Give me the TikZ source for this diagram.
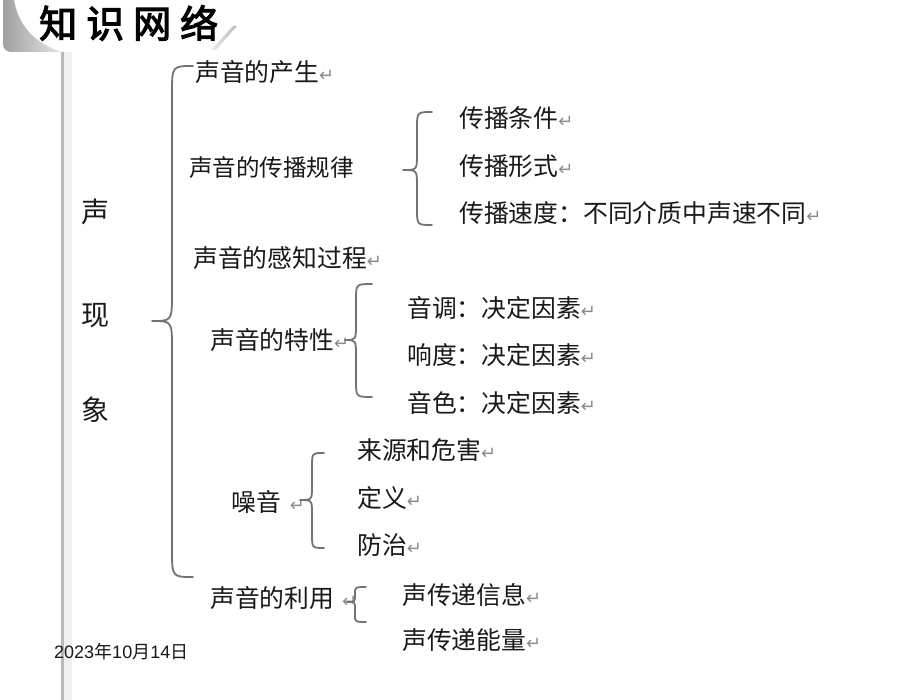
\documentclass[tikz,border=0pt]{standalone}
\usepackage{fontspec}
\setmainfont{Liberation Sans}
\newfontfamily\cjk{Noto Sans CJK SC}
\newfontfamily\cjkb[FakeBold=3]{Noto Sans CJK SC}
\newfontfamily\symf{DejaVu Sans}
\newcommand\rmark{{\symf\fontsize{18}{18}\selectfont\textcolor{black!45}{↵}}}
\newcommand\mybrace[7]{%
  \draw[bracestroke] (#1,#4) .. controls (#2,#4) .. (#2,#4+#7) -- (#2,#5-#7)
    .. controls (#2,#5) .. (#3,#5) .. controls (#2,#5) .. (#2,#5+#7)
    -- (#2,#6-#7) .. controls (#2,#6) .. (#1,#6);}
\tikzset{
  txt/.style={anchor=west, inner sep=0pt, text=black!90,
    font=\cjk\fontsize{24.8}{24.8}\selectfont},
  bigtxt/.style={inner sep=0pt, text=black!90, font=\cjk\fontsize{28}{28}\selectfont},
  bracestroke/.style={draw=black!55, line width=1.8pt, line cap=round, line join=round}
}
\begin{document}
\begin{tikzpicture}[x=1pt,y=-1pt]
\useasboundingbox (0,0) rectangle (920,700);
\fill[white] (0,0) rectangle (920,700);
% title decoration
\shade[left color=gray!75, right color=gray!20]
  (3,0) -- (3,42) .. controls (3,50) and (6,52) .. (14,52) -- (62,52)
  .. controls (35,44) and (18,25) .. (14,0) -- cycle;
\shade[left color=gray!15, right color=gray!55]
  (211,50) -- (216,50) -- (237,26) -- (233,26) -- cycle;
% left rule
\fill[gray!12] (64,52) rectangle (72,700);
\draw[gray!55, line width=2.5pt] (62.5,52) -- (62.5,700);
% title
\node[anchor=west, inner sep=0pt, font=\cjkb\fontsize{38}{38}\selectfont] (title) at (39,23)
  {知\hspace{9pt}识\hspace{9pt}网\hspace{9pt}络};
% root
\node[bigtxt] (r1) at (95,212) {声};
\node[bigtxt] (r2) at (95,316) {现};
\node[bigtxt] (r3) at (95,410) {象};
% level 1
\node[txt] (a1) at (195,72) {声音的产生\rmark};
\node[txt, font=\cjk\fontsize{23.5}{23.5}\selectfont] (a2) at (189,168) {声音的传播规律};
\node[txt] (a3) at (193,258) {声音的感知过程\rmark};
\node[txt] (a4) at (210,340) {声音的特性\rmark};
\node[txt] (a5) at (231,502) {噪音\hspace{9pt}\rmark};
\node[txt] (a6) at (210,598) {声音的利用\hspace{8pt}\rmark};
% level 2
\node[txt] (b1) at (459,118) {传播条件\rmark};
\node[txt] (b2) at (459,166) {传播形式\rmark};
\node[txt] (b3) at (459,213) {传播速度：不同介质中声速不同\rmark};
\node[txt] (c1) at (407,308) {音调：决定因素\rmark};
\node[txt] (c2) at (407,355) {响度：决定因素\rmark};
\node[txt] (c3) at (407,403) {音色：决定因素\rmark};
\node[txt] (d1) at (357,450) {来源和危害\rmark};
\node[txt] (d2) at (357,498) {定义\rmark};
\node[txt] (d3) at (357,545) {防治\rmark};
\node[txt] (e1) at (402,595) {声传递信息\rmark};
\node[txt] (e2) at (402,640) {声传递能量\rmark};
% braces
\mybrace{193}{172}{152}{66}{321}{577}{28}
\mybrace{432}{417}{403}{112}{170}{225}{16}
\mybrace{372}{356}{345}{284}{340}{397}{16}
\mybrace{324}{312}{300}{453}{500}{548}{14}
\mybrace{366}{355}{347}{587}{602}{622}{7}
% footer
\node[anchor=west, inner sep=0pt, text=black!90, font=\fontsize{18}{18}\selectfont] (date) at (54,652)
  {2023{\cjk 年}10{\cjk 月}14{\cjk 日}};
\end{tikzpicture}
\end{document}
